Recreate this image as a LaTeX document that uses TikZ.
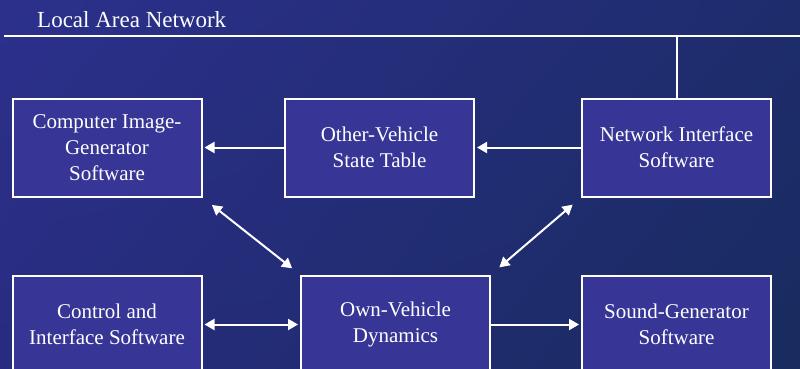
\documentclass[tikz,border=0pt]{standalone}
\usepackage{fontspec}
\setmainfont{LiberationSerif}[Extension=.ttf,UprightFont=*-Regular,BoldFont=*-Bold]
\usetikzlibrary{arrows.meta,positioning,shadings}
\definecolor{bgul}{RGB}{44,48,140}
\definecolor{bgur}{RGB}{30,44,108}
\definecolor{bgll}{RGB}{40,44,128}
\definecolor{bglr}{RGB}{24,44,94}
\definecolor{boxfill}{RGB}{55,54,150}

\begin{document}
\begin{tikzpicture}[x=1pt,y=-1pt,
  box/.style={draw=white,line width=2pt,fill=boxfill,text=white,
    minimum width=189pt,minimum height=98pt,inner sep=0pt,align=center,
    font=\fontsize{21}{26}\selectfont},
  link/.style={white,line width=2pt,-{Triangle[length=10pt,width=11pt]}},
  twoway/.style={white,line width=2pt,
    {Triangle[length=10pt,width=11pt]}-{Triangle[length=10pt,width=11pt]}},
  lanline/.style={white,line width=2pt}]
\useasboundingbox (0,0) rectangle (800,368);
\clip (0,0) rectangle (800,368);
\shade[upper left=bgul,upper right=bgur,lower left=bgll,lower right=bglr]
  (0,0) rectangle (800,368);
% network bus
\node[anchor=base west,text=white,inner sep=0pt,
  font=\fontsize{23}{28}\selectfont] (lantitle) at (37,27) {Local Area Network};
\coordinate (lanL) at (4,36);
\coordinate (lanR) at (800,36);
\draw[lanline] (lanL) -- (lanR);
% top row
\node[box] (cig) at (107,147.5) {Computer Image-\\Generator\\Software};
\node[box] (ovst) at (379.5,147.5) {Other-Vehicle\\State Table};
\node[box] (nis) at (676.5,147.5) {Network Interface\\Software};
% bottom row
\node[box] (cis) at (107,324.5) {Control and\\Interface Software};
\node[box] (ovd) at (395.5,324.5) {Own-Vehicle\\Dynamics};
\node[box] (sgs) at (676.5,324.5) {Sound-Generator\\Software};
\draw[lanline] (nis.north) -- (nis.north |- lanL);
\draw[link,shorten >=2pt] (nis.west) -- (ovst.east);
\draw[link,shorten >=2pt] (ovst.west) -- (cig.east);
\draw[twoway,shorten <=2pt,shorten >=2pt] (cis.east) -- (ovd.west);
\draw[link,shorten >=2pt] (ovd.east) -- (sgs.west);
\draw[twoway,shorten <=12pt,shorten >=10pt] (cig.south east) -- (ovd.north west);
\draw[twoway,shorten <=11pt,shorten >=11pt] (nis.south west) -- (ovd.north east);
\end{tikzpicture}
\end{document}
